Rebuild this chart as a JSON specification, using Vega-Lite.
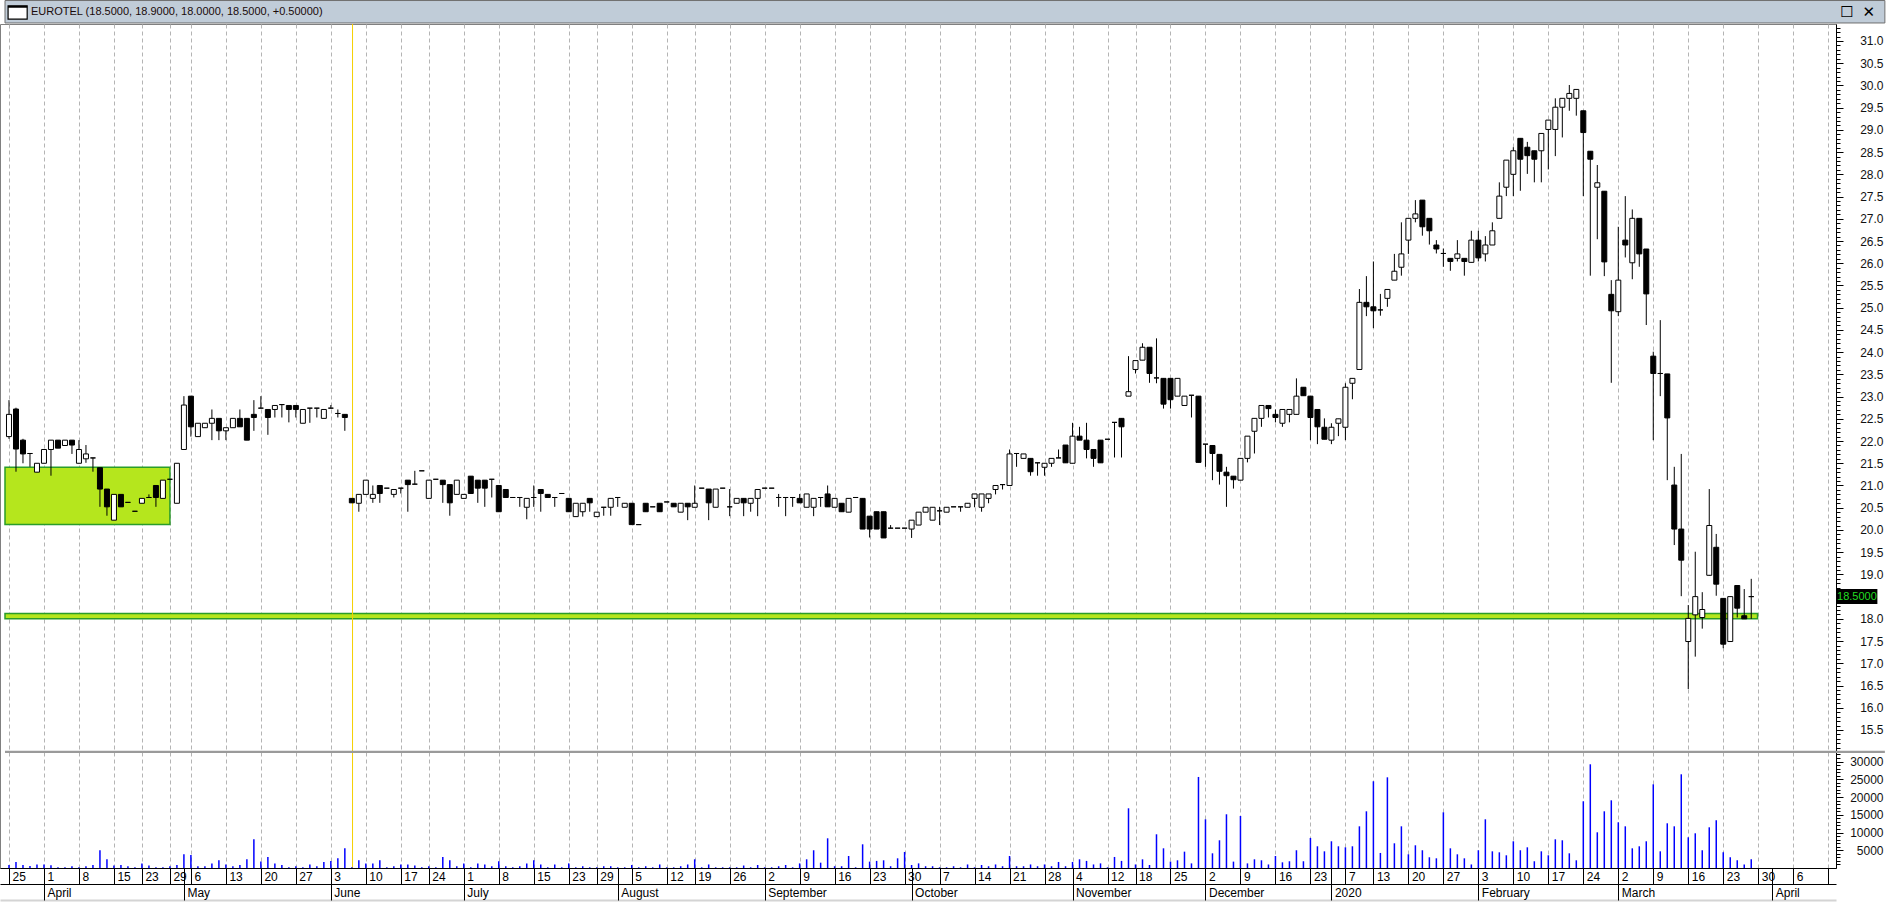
{
"$schema": "https://vega.github.io/schema/vega-lite/v6.json",
"width": 1836,
"height": 844,
"autosize": {"type": "none"},
"padding": {"left": 0, "top": 24, "right": 54, "bottom": 36},
"background": "white",
"config": {
  "view": {"stroke": "#808080"},
  "axis": {"labelFont": "Liberation Sans", "labelFontSize": 12, "labelColor": "#111111", "domainColor": "black", "tickColor": "black", "gridColor": "#b4b4b4", "gridDash": [4, 3], "labelOverlap": false, "labelFlush": false, "title": null},
  "tick": {"opacity": 1}
},
"datasets": {"ohlc": [
{"i":0,"o":22.10,"h":22.92,"l":22.05,"c":22.60,"v":850},
{"i":1,"o":22.72,"h":22.75,"l":21.31,"c":21.82,"v":1700},
{"i":2,"o":22.02,"h":22.05,"l":21.50,"c":21.71,"v":850},
{"i":3,"o":21.72,"h":21.72,"l":21.42,"c":21.72,"v":570},
{"i":4,"o":21.30,"h":21.50,"l":21.30,"c":21.50,"v":1000},
{"i":5,"o":21.50,"h":21.81,"l":21.50,"c":21.81,"v":1000},
{"i":6,"o":21.81,"h":22.02,"l":21.22,"c":22.02,"v":760},
{"i":7,"o":22.02,"h":22.02,"l":21.84,"c":21.84,"v":200},
{"i":8,"o":21.90,"h":22.02,"l":21.90,"c":22.02,"v":200},
{"i":9,"o":22.02,"h":22.02,"l":21.71,"c":21.91,"v":500},
{"i":10,"o":21.50,"h":22.02,"l":21.50,"c":21.81,"v":200},
{"i":11,"o":21.60,"h":21.91,"l":21.51,"c":21.71,"v":500},
{"i":12,"o":21.62,"h":21.62,"l":21.31,"c":21.62,"v":850},
{"i":13,"o":21.40,"h":21.40,"l":20.52,"c":20.92,"v":5000},
{"i":14,"o":20.92,"h":20.92,"l":20.32,"c":20.52,"v":2450},
{"i":15,"o":20.22,"h":20.80,"l":20.22,"c":20.80,"v":700},
{"i":16,"o":20.80,"h":20.80,"l":20.52,"c":20.52,"v":850},
{"i":17,"o":20.62,"h":20.62,"l":20.62,"c":20.62,"v":500},
{"i":18,"o":20.42,"h":20.42,"l":20.42,"c":20.42,"v":200},
{"i":19,"o":20.60,"h":20.71,"l":20.60,"c":20.71,"v":1300},
{"i":20,"o":20.73,"h":20.80,"l":20.73,"c":20.73,"v":700},
{"i":21,"o":21.00,"h":21.00,"l":20.52,"c":20.73,"v":200},
{"i":22,"o":20.71,"h":21.12,"l":20.71,"c":21.12,"v":200},
{"i":23,"o":21.14,"h":21.14,"l":21.14,"c":21.14,"v":500},
{"i":24,"o":20.60,"h":21.50,"l":20.60,"c":21.50,"v":850},
{"i":25,"o":21.81,"h":23.01,"l":21.81,"c":22.81,"v":3860},
{"i":26,"o":23.01,"h":23.01,"l":22.10,"c":22.32,"v":3670},
{"i":27,"o":22.10,"h":22.40,"l":22.10,"c":22.40,"v":500},
{"i":28,"o":22.30,"h":22.40,"l":22.30,"c":22.40,"v":500},
{"i":29,"o":22.40,"h":22.71,"l":22.02,"c":22.51,"v":1300},
{"i":30,"o":22.51,"h":22.51,"l":22.02,"c":22.23,"v":2170},
{"i":31,"o":22.23,"h":22.30,"l":22.02,"c":22.30,"v":1000},
{"i":32,"o":22.30,"h":22.51,"l":22.30,"c":22.51,"v":500},
{"i":33,"o":22.51,"h":22.71,"l":22.32,"c":22.32,"v":850},
{"i":34,"o":22.51,"h":22.51,"l":22.02,"c":22.02,"v":2450},
{"i":35,"o":22.60,"h":22.92,"l":22.23,"c":22.53,"v":8090},
{"i":36,"o":22.74,"h":23.01,"l":22.74,"c":22.74,"v":1800},
{"i":37,"o":22.71,"h":22.71,"l":22.14,"c":22.53,"v":3110},
{"i":38,"o":22.71,"h":22.80,"l":22.53,"c":22.80,"v":1300},
{"i":39,"o":22.82,"h":22.82,"l":22.53,"c":22.82,"v":850},
{"i":40,"o":22.80,"h":22.80,"l":22.42,"c":22.71,"v":200},
{"i":41,"o":22.80,"h":22.80,"l":22.53,"c":22.71,"v":500},
{"i":42,"o":22.40,"h":22.71,"l":22.40,"c":22.71,"v":200},
{"i":43,"o":22.74,"h":22.74,"l":22.41,"c":22.74,"v":1000},
{"i":44,"o":22.74,"h":22.74,"l":22.53,"c":22.74,"v":500},
{"i":45,"o":22.51,"h":22.71,"l":22.51,"c":22.71,"v":1700},
{"i":46,"o":22.74,"h":22.81,"l":22.74,"c":22.74,"v":2000},
{"i":47,"o":22.62,"h":22.71,"l":22.53,"c":22.62,"v":2730},
{"i":48,"o":22.60,"h":22.60,"l":22.23,"c":22.53,"v":5550},
{"i":49,"o":20.71,"h":20.71,"l":20.61,"c":20.61,"v":200},
{"i":50,"o":20.60,"h":20.80,"l":20.41,"c":20.80,"v":2170},
{"i":51,"o":20.80,"h":21.12,"l":20.80,"c":21.12,"v":1300},
{"i":52,"o":20.71,"h":21.00,"l":20.61,"c":20.80,"v":1300},
{"i":53,"o":21.00,"h":21.00,"l":20.61,"c":20.82,"v":2170},
{"i":54,"o":20.94,"h":20.94,"l":20.94,"c":20.94,"v":200},
{"i":55,"o":20.80,"h":20.91,"l":20.73,"c":20.91,"v":500},
{"i":56,"o":20.94,"h":20.94,"l":20.82,"c":20.94,"v":1000},
{"i":57,"o":21.12,"h":21.12,"l":20.41,"c":21.02,"v":1000},
{"i":58,"o":21.03,"h":21.33,"l":21.03,"c":21.03,"v":700},
{"i":59,"o":21.33,"h":21.33,"l":21.33,"c":21.33,"v":200},
{"i":60,"o":20.71,"h":21.12,"l":20.71,"c":21.12,"v":500},
{"i":61,"o":21.14,"h":21.14,"l":21.14,"c":21.14,"v":200},
{"i":62,"o":21.12,"h":21.12,"l":20.61,"c":21.02,"v":3110},
{"i":63,"o":21.02,"h":21.02,"l":20.32,"c":20.61,"v":2170},
{"i":64,"o":20.80,"h":21.12,"l":20.80,"c":21.12,"v":500},
{"i":65,"o":20.71,"h":20.80,"l":20.71,"c":20.80,"v":1300},
{"i":66,"o":21.21,"h":21.21,"l":20.82,"c":20.82,"v":200},
{"i":67,"o":21.12,"h":21.12,"l":20.61,"c":20.94,"v":1300},
{"i":68,"o":21.12,"h":21.12,"l":20.52,"c":20.94,"v":1000},
{"i":69,"o":21.14,"h":21.14,"l":20.73,"c":21.14,"v":500},
{"i":70,"o":21.00,"h":21.00,"l":20.41,"c":20.41,"v":1900},
{"i":71,"o":20.91,"h":20.91,"l":20.73,"c":20.73,"v":500},
{"i":72,"o":20.73,"h":20.73,"l":20.73,"c":20.73,"v":200},
{"i":73,"o":20.73,"h":20.73,"l":20.52,"c":20.73,"v":500},
{"i":74,"o":20.51,"h":20.71,"l":20.24,"c":20.71,"v":1300},
{"i":75,"o":20.73,"h":21.00,"l":20.52,"c":20.73,"v":2170},
{"i":76,"o":20.91,"h":20.91,"l":20.41,"c":20.82,"v":1000},
{"i":77,"o":20.80,"h":20.80,"l":20.73,"c":20.73,"v":200},
{"i":78,"o":20.73,"h":20.73,"l":20.52,"c":20.73,"v":1000},
{"i":79,"o":20.82,"h":20.82,"l":20.82,"c":20.82,"v":200},
{"i":80,"o":20.71,"h":20.71,"l":20.41,"c":20.41,"v":1300},
{"i":81,"o":20.30,"h":20.60,"l":20.30,"c":20.60,"v":200},
{"i":82,"o":20.41,"h":20.60,"l":20.30,"c":20.60,"v":500},
{"i":83,"o":20.71,"h":20.71,"l":20.41,"c":20.61,"v":200},
{"i":84,"o":20.30,"h":20.40,"l":20.30,"c":20.40,"v":200},
{"i":85,"o":20.51,"h":20.51,"l":20.32,"c":20.51,"v":500},
{"i":86,"o":20.51,"h":20.71,"l":20.32,"c":20.71,"v":500},
{"i":87,"o":20.73,"h":20.73,"l":20.52,"c":20.73,"v":200},
{"i":88,"o":20.51,"h":20.60,"l":20.51,"c":20.60,"v":200},
{"i":89,"o":20.60,"h":20.60,"l":20.12,"c":20.12,"v":850},
{"i":90,"o":20.12,"h":20.12,"l":20.12,"c":20.12,"v":200},
{"i":91,"o":20.60,"h":20.60,"l":20.41,"c":20.41,"v":500},
{"i":92,"o":20.52,"h":20.52,"l":20.52,"c":20.52,"v":200},
{"i":93,"o":20.60,"h":20.60,"l":20.41,"c":20.41,"v":1000},
{"i":94,"o":20.63,"h":20.63,"l":20.63,"c":20.63,"v":200},
{"i":95,"o":20.60,"h":20.60,"l":20.52,"c":20.52,"v":200},
{"i":96,"o":20.40,"h":20.60,"l":20.40,"c":20.60,"v":500},
{"i":97,"o":20.60,"h":20.60,"l":20.22,"c":20.52,"v":1000},
{"i":98,"o":20.51,"h":21.00,"l":20.51,"c":20.60,"v":2450},
{"i":99,"o":20.94,"h":20.94,"l":20.94,"c":20.94,"v":200},
{"i":100,"o":20.92,"h":20.92,"l":20.22,"c":20.61,"v":1000},
{"i":101,"o":20.51,"h":20.92,"l":20.51,"c":20.92,"v":200},
{"i":102,"o":20.94,"h":20.94,"l":20.94,"c":20.94,"v":200},
{"i":103,"o":20.52,"h":20.92,"l":20.31,"c":20.52,"v":200},
{"i":104,"o":20.60,"h":20.71,"l":20.60,"c":20.71,"v":200},
{"i":105,"o":20.71,"h":20.71,"l":20.31,"c":20.61,"v":700},
{"i":106,"o":20.60,"h":20.71,"l":20.41,"c":20.71,"v":200},
{"i":107,"o":20.71,"h":20.91,"l":20.31,"c":20.91,"v":850},
{"i":108,"o":20.94,"h":20.94,"l":20.94,"c":20.94,"v":200},
{"i":109,"o":20.94,"h":20.94,"l":20.94,"c":20.94,"v":200},
{"i":110,"o":20.73,"h":20.81,"l":20.52,"c":20.73,"v":500},
{"i":111,"o":20.73,"h":20.73,"l":20.31,"c":20.73,"v":850},
{"i":112,"o":20.73,"h":20.73,"l":20.52,"c":20.73,"v":200},
{"i":113,"o":20.71,"h":20.81,"l":20.61,"c":20.61,"v":1300},
{"i":114,"o":20.51,"h":20.81,"l":20.51,"c":20.81,"v":2450},
{"i":115,"o":20.51,"h":20.71,"l":20.31,"c":20.71,"v":5000},
{"i":116,"o":20.73,"h":20.73,"l":20.52,"c":20.73,"v":1500},
{"i":117,"o":20.81,"h":21.00,"l":20.52,"c":20.52,"v":8370},
{"i":118,"o":20.51,"h":20.71,"l":20.51,"c":20.71,"v":500},
{"i":119,"o":20.60,"h":20.60,"l":20.41,"c":20.41,"v":500},
{"i":120,"o":20.40,"h":20.71,"l":20.40,"c":20.71,"v":3390},
{"i":121,"o":20.73,"h":20.73,"l":20.73,"c":20.73,"v":200},
{"i":122,"o":20.71,"h":20.71,"l":20.02,"c":20.02,"v":6680},
{"i":123,"o":20.31,"h":20.31,"l":19.83,"c":20.02,"v":1800},
{"i":124,"o":20.41,"h":20.41,"l":20.02,"c":20.02,"v":2000},
{"i":125,"o":20.41,"h":20.41,"l":19.82,"c":19.82,"v":2170},
{"i":126,"o":20.04,"h":20.11,"l":20.04,"c":20.04,"v":500},
{"i":127,"o":20.04,"h":20.04,"l":20.04,"c":20.04,"v":2730},
{"i":128,"o":20.04,"h":20.04,"l":20.04,"c":20.04,"v":4520},
{"i":129,"o":20.02,"h":20.22,"l":19.82,"c":20.22,"v":850},
{"i":130,"o":20.11,"h":20.40,"l":20.11,"c":20.40,"v":1300},
{"i":131,"o":20.40,"h":20.51,"l":20.40,"c":20.51,"v":500},
{"i":132,"o":20.22,"h":20.51,"l":20.22,"c":20.51,"v":500},
{"i":133,"o":20.43,"h":20.52,"l":20.11,"c":20.43,"v":200},
{"i":134,"o":20.40,"h":20.51,"l":20.40,"c":20.51,"v":200},
{"i":135,"o":20.52,"h":20.52,"l":20.52,"c":20.52,"v":500},
{"i":136,"o":20.52,"h":20.52,"l":20.41,"c":20.52,"v":200},
{"i":137,"o":20.51,"h":20.60,"l":20.51,"c":20.60,"v":1000},
{"i":138,"o":20.71,"h":20.81,"l":20.51,"c":20.81,"v":200},
{"i":139,"o":20.51,"h":20.81,"l":20.41,"c":20.81,"v":850},
{"i":140,"o":20.71,"h":20.81,"l":20.60,"c":20.81,"v":500},
{"i":141,"o":20.91,"h":21.00,"l":20.80,"c":21.00,"v":1000},
{"i":142,"o":21.02,"h":21.02,"l":20.91,"c":21.02,"v":500},
{"i":143,"o":21.00,"h":21.81,"l":21.00,"c":21.71,"v":3390},
{"i":144,"o":21.72,"h":21.72,"l":21.42,"c":21.72,"v":500},
{"i":145,"o":21.61,"h":21.71,"l":21.61,"c":21.71,"v":500},
{"i":146,"o":21.61,"h":21.61,"l":21.22,"c":21.31,"v":1000},
{"i":147,"o":21.51,"h":21.51,"l":21.22,"c":21.51,"v":500},
{"i":148,"o":21.41,"h":21.50,"l":21.22,"c":21.50,"v":1000},
{"i":149,"o":21.50,"h":21.61,"l":21.42,"c":21.61,"v":500},
{"i":150,"o":21.62,"h":21.81,"l":21.62,"c":21.62,"v":1700},
{"i":151,"o":21.91,"h":21.91,"l":21.51,"c":21.51,"v":500},
{"i":152,"o":21.50,"h":22.41,"l":21.50,"c":22.11,"v":1700},
{"i":153,"o":22.11,"h":22.32,"l":22.02,"c":22.02,"v":2450},
{"i":154,"o":22.02,"h":22.41,"l":21.61,"c":21.81,"v":2000},
{"i":155,"o":21.81,"h":21.81,"l":21.42,"c":21.61,"v":1000},
{"i":156,"o":22.02,"h":22.02,"l":21.51,"c":21.51,"v":1300},
{"i":157,"o":22.04,"h":22.04,"l":22.04,"c":22.04,"v":200},
{"i":158,"o":22.42,"h":22.42,"l":21.63,"c":22.42,"v":3110},
{"i":159,"o":22.51,"h":22.51,"l":21.63,"c":22.32,"v":2000},
{"i":160,"o":23.01,"h":23.91,"l":23.01,"c":23.11,"v":16830},
{"i":161,"o":23.61,"h":23.81,"l":23.52,"c":23.81,"v":1000},
{"i":162,"o":23.82,"h":24.20,"l":23.82,"c":24.11,"v":2450},
{"i":163,"o":24.11,"h":24.11,"l":23.31,"c":23.52,"v":850},
{"i":164,"o":23.42,"h":24.31,"l":23.30,"c":23.42,"v":9500},
{"i":165,"o":23.41,"h":23.41,"l":22.73,"c":22.83,"v":5550},
{"i":166,"o":23.41,"h":23.41,"l":22.73,"c":22.93,"v":1800},
{"i":167,"o":23.01,"h":23.41,"l":23.01,"c":23.41,"v":2170},
{"i":168,"o":22.80,"h":23.01,"l":22.80,"c":23.01,"v":4610},
{"i":169,"o":23.03,"h":23.03,"l":22.53,"c":23.03,"v":1300},
{"i":170,"o":23.01,"h":23.01,"l":21.52,"c":21.52,"v":25660},
{"i":171,"o":21.93,"h":21.93,"l":21.42,"c":21.93,"v":13730},
{"i":172,"o":21.90,"h":21.90,"l":21.12,"c":21.72,"v":4140},
{"i":173,"o":21.70,"h":21.70,"l":21.02,"c":21.32,"v":7810},
{"i":174,"o":21.30,"h":21.42,"l":20.52,"c":21.22,"v":15140},
{"i":175,"o":21.21,"h":21.21,"l":20.93,"c":21.13,"v":1800},
{"i":176,"o":21.12,"h":21.61,"l":21.12,"c":21.61,"v":14670},
{"i":177,"o":21.61,"h":22.11,"l":21.52,"c":22.11,"v":1300},
{"i":178,"o":22.22,"h":22.51,"l":21.72,"c":22.51,"v":2450},
{"i":179,"o":22.51,"h":22.80,"l":22.32,"c":22.80,"v":2170},
{"i":180,"o":22.80,"h":22.80,"l":22.53,"c":22.73,"v":1000},
{"i":181,"o":22.60,"h":22.71,"l":22.42,"c":22.53,"v":3390},
{"i":182,"o":22.40,"h":22.71,"l":22.32,"c":22.71,"v":1600},
{"i":183,"o":22.60,"h":22.71,"l":22.42,"c":22.71,"v":1900},
{"i":184,"o":22.60,"h":23.41,"l":22.60,"c":23.01,"v":5000},
{"i":185,"o":23.21,"h":23.21,"l":23.02,"c":23.02,"v":1900},
{"i":186,"o":23.01,"h":23.01,"l":22.02,"c":22.53,"v":8460},
{"i":187,"o":22.71,"h":22.71,"l":21.93,"c":22.32,"v":6120},
{"i":188,"o":22.31,"h":22.51,"l":22.04,"c":22.04,"v":4700},
{"i":189,"o":22.02,"h":22.40,"l":21.93,"c":22.31,"v":7530},
{"i":190,"o":22.40,"h":22.50,"l":22.11,"c":22.50,"v":6120},
{"i":191,"o":22.31,"h":23.30,"l":22.02,"c":23.21,"v":5830},
{"i":192,"o":23.30,"h":23.41,"l":22.94,"c":23.41,"v":6120},
{"i":193,"o":23.61,"h":25.42,"l":23.61,"c":25.12,"v":11750},
{"i":194,"o":25.12,"h":25.71,"l":24.81,"c":25.02,"v":15980},
{"i":195,"o":25.02,"h":26.04,"l":24.54,"c":24.93,"v":24440},
{"i":196,"o":24.95,"h":25.31,"l":24.82,"c":24.95,"v":4240},
{"i":197,"o":25.21,"h":25.41,"l":25.02,"c":25.41,"v":25560},
{"i":198,"o":25.62,"h":26.21,"l":25.62,"c":25.82,"v":6960},
{"i":199,"o":25.91,"h":26.92,"l":25.72,"c":26.21,"v":11750},
{"i":200,"o":26.52,"h":27.01,"l":26.21,"c":27.01,"v":3860},
{"i":201,"o":27.01,"h":27.42,"l":26.92,"c":27.11,"v":6400},
{"i":202,"o":27.42,"h":27.42,"l":26.62,"c":26.82,"v":5000},
{"i":203,"o":27.01,"h":27.01,"l":26.42,"c":26.73,"v":3020},
{"i":204,"o":26.41,"h":26.52,"l":26.22,"c":26.32,"v":2730},
{"i":205,"o":26.22,"h":26.33,"l":25.92,"c":26.22,"v":15700},
{"i":206,"o":26.11,"h":26.11,"l":25.83,"c":26.04,"v":5550},
{"i":207,"o":26.11,"h":26.52,"l":26.04,"c":26.21,"v":3860},
{"i":208,"o":26.11,"h":26.11,"l":25.72,"c":26.04,"v":2730},
{"i":209,"o":26.02,"h":26.73,"l":26.02,"c":26.52,"v":1000},
{"i":210,"o":26.52,"h":26.73,"l":26.04,"c":26.12,"v":5000},
{"i":211,"o":26.21,"h":26.61,"l":26.04,"c":26.41,"v":13730},
{"i":212,"o":26.41,"h":26.92,"l":26.41,"c":26.73,"v":4700},
{"i":213,"o":27.01,"h":27.82,"l":27.01,"c":27.51,"v":4420},
{"i":214,"o":27.71,"h":28.32,"l":27.51,"c":28.32,"v":3580},
{"i":215,"o":28.00,"h":28.61,"l":27.51,"c":28.53,"v":7530},
{"i":216,"o":28.81,"h":28.81,"l":27.63,"c":28.34,"v":5000},
{"i":217,"o":28.61,"h":28.73,"l":28.01,"c":28.42,"v":5830},
{"i":218,"o":28.53,"h":28.53,"l":27.82,"c":28.34,"v":1900},
{"i":219,"o":28.53,"h":28.92,"l":27.82,"c":28.92,"v":4700},
{"i":220,"o":29.01,"h":29.22,"l":28.11,"c":29.22,"v":3580},
{"i":221,"o":29.01,"h":29.71,"l":28.41,"c":29.51,"v":8090},
{"i":222,"o":29.51,"h":29.71,"l":28.83,"c":29.71,"v":7810},
{"i":223,"o":29.71,"h":30.01,"l":29.43,"c":29.82,"v":4140},
{"i":224,"o":29.71,"h":29.91,"l":29.32,"c":29.91,"v":2170},
{"i":225,"o":29.43,"h":29.43,"l":27.51,"c":28.94,"v":18800},
{"i":226,"o":28.52,"h":28.52,"l":25.72,"c":28.34,"v":29230},
{"i":227,"o":27.71,"h":28.21,"l":26.54,"c":27.81,"v":10060},
{"i":228,"o":27.62,"h":27.62,"l":25.71,"c":26.03,"v":15980},
{"i":229,"o":25.30,"h":25.62,"l":23.31,"c":24.93,"v":19080},
{"i":230,"o":24.91,"h":26.82,"l":24.81,"c":25.62,"v":12880},
{"i":231,"o":26.52,"h":27.51,"l":26.13,"c":26.41,"v":11750},
{"i":232,"o":26.01,"h":27.21,"l":25.64,"c":27.01,"v":5550},
{"i":233,"o":27.01,"h":27.01,"l":25.92,"c":26.21,"v":6120},
{"i":234,"o":26.32,"h":26.32,"l":24.61,"c":25.31,"v":7530},
{"i":235,"o":23.91,"h":24.01,"l":22.02,"c":23.52,"v":23590},
{"i":236,"o":23.52,"h":24.72,"l":23.01,"c":23.52,"v":4700},
{"i":237,"o":23.51,"h":23.51,"l":21.12,"c":22.52,"v":12600},
{"i":238,"o":21.01,"h":21.42,"l":19.66,"c":20.02,"v":11750},
{"i":239,"o":20.02,"h":21.71,"l":18.51,"c":19.32,"v":26410},
{"i":240,"o":17.49,"h":18.31,"l":16.42,"c":18.01,"v":8650},
{"i":241,"o":18.09,"h":19.51,"l":17.15,"c":18.50,"v":9780},
{"i":242,"o":18.03,"h":18.60,"l":17.78,"c":18.21,"v":5000},
{"i":243,"o":18.98,"h":20.92,"l":18.97,"c":20.10,"v":11470},
{"i":244,"o":19.61,"h":19.91,"l":18.52,"c":18.78,"v":13450},
{"i":245,"o":18.46,"h":18.46,"l":17.34,"c":17.43,"v":4420},
{"i":246,"o":17.49,"h":18.50,"l":17.49,"c":18.50,"v":3020},
{"i":247,"o":18.75,"h":18.75,"l":18.03,"c":18.24,"v":2170},
{"i":248,"o":18.07,"h":18.67,"l":18.00,"c":18.00,"v":1000},
{"i":249,"o":18.50,"h":18.90,"l":18.00,"c":18.50,"v":2450}
]},
"data": {"name": "ohlc"},
"resolve": {"scale": {"y": "independent"}, "axis": {"x": "independent", "y": "independent"}},
"layer": [
  {"data": {"values": [{}]},
   "mark": {"type": "rect", "fill": "#c0ccd8", "stroke": "#6f6f6f", "strokeWidth": 1},
   "encoding": {
     "x": {"datum": -0.57, "type": "quantitative", "title": null, "scale": {"domain": [-0.57, 260.4], "nice": false, "zero": false}, "axis": null},
     "x2": {"datum": 268.1},
     "y": {"datum": 31.405, "type": "quantitative", "title": null, "scale": {"domain": [12.395, 31.382], "nice": false, "zero": false}, "axis": null},
     "y2": {"datum": 31.91}
   }},
  {"data": {"values": [{}]},
   "mark": {"type": "rect", "fill": "white", "stroke": "black", "strokeWidth": 1.2},
   "encoding": {
     "x": {"datum": -0.13, "type": "quantitative", "title": null, "axis": null},
     "x2": {"datum": 2.6},
     "y": {"datum": 31.49, "type": "quantitative", "title": null, "scale": {"domain": [12.395, 31.382], "nice": false, "zero": false}, "axis": null},
     "y2": {"datum": 31.79}
   }},
  {"data": {"values": [{}]},
   "mark": {"type": "rect", "fill": "black", "stroke": null},
   "encoding": {
     "x": {"datum": -0.13, "type": "quantitative", "title": null, "axis": null},
     "x2": {"datum": 2.6},
     "y": {"datum": 31.745, "type": "quantitative", "title": null, "scale": {"domain": [12.395, 31.382], "nice": false, "zero": false}, "axis": null},
     "y2": {"datum": 31.79}
   }},
  {"data": {"values": [{"caption": "EUROTEL (18.5000, 18.9000, 18.0000, 18.5000, +0.50000)"}]},
   "mark": {"type": "text", "align": "left", "baseline": "middle", "dx": 26, "font": "Liberation Sans", "fontSize": 11, "color": "#1a0a0a"},
   "encoding": {
     "x": {"datum": -0.57, "type": "quantitative", "title": null, "axis": null},
     "y": {"datum": 31.655, "type": "quantitative", "title": null, "scale": {"domain": [12.395, 31.382], "nice": false, "zero": false}, "axis": null},
     "text": {"field": "caption"}
   }},
  {"data": {"values": [{"glyph": "☐", "off": -38}, {"glyph": "✕", "off": -16}]},
   "mark": {"type": "text", "align": "center", "baseline": "middle", "font": "DejaVu Sans", "fontSize": 15, "fontWeight": "bold", "color": "black"},
   "encoding": {
     "x": {"datum": 268.1, "type": "quantitative", "title": null, "axis": null},
     "xOffset": {"field": "off", "type": "quantitative", "scale": null},
     "y": {"datum": 31.66, "type": "quantitative", "title": null, "scale": {"domain": [12.395, 31.382], "nice": false, "zero": false}, "axis": null},
     "text": {"field": "glyph"}
   }},
  {"data": {"values": [{}]},
   "mark": {"type": "rect", "fill": "#b5e61d", "stroke": "#2a9d2a", "strokeWidth": 1.5, "clip": true},
   "encoding": {
     "x": {"datum": -0.57, "type": "quantitative", "title": null,
           "axis": {"orient": "bottom", "offset": 32, "labels": false, "ticks": false, "grid": false, "domain": true, "domainColor": "#d4d4d4", "domainWidth": 2}},
     "x2": {"datum": 23.0},
     "y": {"datum": 20.12, "type": "quantitative", "title": null, "scale": {"domain": [12.395, 31.382], "nice": false, "zero": false}, "axis": null},
     "y2": {"datum": 21.41}
   }},
  {"data": {"values": [{}]},
   "mark": {"type": "rect", "fill": "#b5e61d", "stroke": "#2a9d2a", "strokeWidth": 1.5, "clip": true},
   "encoding": {
     "x": {"datum": -0.57, "type": "quantitative", "title": null, "axis": null},
     "x2": {"datum": 249.9},
     "y": {"datum": 18.0, "type": "quantitative", "title": null, "scale": {"domain": [12.395, 31.382], "nice": false, "zero": false}, "axis": null},
     "y2": {"datum": 18.12}
   }},
  {"data": {"values": [{}]},
   "mark": {"type": "rule", "color": "#f5d000", "strokeWidth": 1},
   "encoding": {
     "x": {"datum": 49.1, "type": "quantitative", "title": null,
           "axis": {"orient": "bottom", "values": [5,25,46,65,87,108,129,152,171,189,210,230,252],
                    "labelExpr": "['April','May','June','July','August','September','October','November','December','2020','February','March','April'][indexof([5,25,46,65,87,108,129,152,171,189,210,230,252], datum.value)]",
                    "grid": false, "tickSize": 32, "domain": false, "labelAlign": "left", "labelBaseline": "middle", "labelPadding": -8, "labelOffset": 3, "labelColor": "black"}}
   }},
  {"mark": {"type": "rule", "color": "#0000ff", "strokeWidth": 1.5},
   "encoding": {
     "x": {"field": "i", "type": "quantitative", "title": null,
           "axis": {"orient": "bottom", "values": [0,5,10,15,19,23,26,31,36,41,46,51,56,60,65,70,75,80,84,89,94,98,103,108,113,118,123,128,133,138,143,148,152,157,161,166,171,176,181,186,191,195,200,205,210,215,220,225,230,235,240,245,250,255,260],
                    "labelExpr": "['25','1','8','15','23','29','6','13','20','27','3','10','17','24','1','8','15','23','29','5','12','19','26','2','9','16','23','30','7','14','21','28','4','12','18','25','2','9','16','23','7','13','20','27','3','10','17','24','2','9','16','23','30','6',''][indexof([0,5,10,15,19,23,26,31,36,41,46,51,56,60,65,70,75,80,84,89,94,98,103,108,113,118,123,128,133,138,143,148,152,157,161,166,171,176,181,186,191,195,200,205,210,215,220,225,230,235,240,245,250,255,260], datum.value)]",
                    "grid": true, "tickSize": 16, "domain": true, "labelAlign": "left", "labelBaseline": "middle", "labelPadding": -8, "labelOffset": 3, "labelColor": "black"}},
     "y": {"field": "v", "type": "quantitative", "title": null, "scale": {"domain": [0, 237880], "nice": false, "zero": false},
           "axis": {"orient": "right", "values": [5000,10000,15000,20000,25000,30000], "format": "d", "tickSize": 7, "labelAlign": "right", "labelPadding": 40, "labelBaseline": "middle", "grid": false, "domain": false}},
     "y2": {"datum": 0}
   }},
  {"data": {"values": [{}]},
   "mark": {"type": "point", "opacity": 0},
   "encoding": {
     "x": {"datum": 0, "type": "quantitative", "title": null, "axis": null},
     "y": {"datum": 0, "type": "quantitative", "title": null, "scale": {"domain": [0, 237880], "nice": false, "zero": false},
           "axis": {"orient": "right", "values": [1000,2000,3000,4000,6000,7000,8000,9000,11000,12000,13000,14000,16000,17000,18000,19000,21000,22000,23000,24000,26000,27000,28000,29000,31000,32000], "labels": false, "tickSize": 4, "grid": false, "domain": false}}
   }},
  {"mark": {"type": "rule", "color": "black", "strokeWidth": 1},
   "encoding": {
     "x": {"field": "i", "type": "quantitative", "title": null, "axis": null},
     "y": {"field": "l", "type": "quantitative", "title": null, "scale": {"domain": [12.395, 31.382], "nice": false, "zero": false},
           "axis": {"orient": "right", "values": [15.5,16,16.5,17,17.5,18,19,19.5,20,20.5,21,21.5,22,22.5,23,23.5,24,24.5,25,25.5,26,26.5,27,27.5,28,28.5,29,29.5,30,30.5,31], "format": ".1f", "tickSize": 7, "labelAlign": "right", "labelPadding": 40, "labelBaseline": "middle", "grid": false, "domain": true}},
     "y2": {"field": "h"}
   }},
  {"mark": {"type": "bar", "width": 5, "stroke": "black", "strokeWidth": 1},
   "encoding": {
     "x": {"field": "i", "type": "quantitative", "title": null, "axis": null},
     "y": {"field": "o", "type": "quantitative", "title": null, "scale": {"domain": [12.395, 31.382], "nice": false, "zero": false},
           "axis": {"orient": "right", "values": [15.1,15.2,15.3,15.4,15.6,15.7,15.8,15.9,16.1,16.2,16.3,16.4,16.6,16.7,16.8,16.9,17.1,17.2,17.3,17.4,17.6,17.7,17.8,17.9,18.1,18.2,18.3,18.4,18.5,18.6,18.7,18.8,18.9,19.1,19.2,19.3,19.4,19.6,19.7,19.8,19.9,20.1,20.2,20.3,20.4,20.6,20.7,20.8,20.9,21.1,21.2,21.3,21.4,21.6,21.7,21.8,21.9,22.1,22.2,22.3,22.4,22.6,22.7,22.8,22.9,23.1,23.2,23.3,23.4,23.6,23.7,23.8,23.9,24.1,24.2,24.3,24.4,24.6,24.7,24.8,24.9,25.1,25.2,25.3,25.4,25.6,25.7,25.8,25.9,26.1,26.2,26.3,26.4,26.6,26.7,26.8,26.9,27.1,27.2,27.3,27.4,27.6,27.7,27.8,27.9,28.1,28.2,28.3,28.4,28.6,28.7,28.8,28.9,29.1,29.2,29.3,29.4,29.6,29.7,29.8,29.9,30.1,30.2,30.3,30.4,30.6,30.7,30.8,30.9,31.1,31.2,31.3], "labels": false, "tickSize": 4, "grid": false, "domain": false}},
     "y2": {"field": "c"},
     "fill": {"condition": {"test": "datum.c > datum.o", "value": "white"}, "value": "black"}
   }},
  {"data": {"values": [{}]},
   "mark": {"type": "rect", "fill": "#9a9a9a", "stroke": null},
   "encoding": {
     "x": {"datum": -0.57, "type": "quantitative", "title": null,
           "axis": {"orient": "bottom", "offset": 16, "labels": false, "ticks": false, "grid": false, "domain": true}},
     "x2": {"datum": 268.1},
     "y": {"datum": 14.98, "type": "quantitative", "title": null, "scale": {"domain": [12.395, 31.382], "nice": false, "zero": false}, "axis": null},
     "y2": {"datum": 15.03}
   }},
  {"transform": [{"filter": "datum.i == 249"}],
   "mark": {"type": "tick", "orient": "horizontal", "size": 41, "thickness": 15, "color": "black", "opacity": 1},
   "encoding": {
     "x": {"datum": 264.1, "type": "quantitative", "title": null, "axis": null},
     "y": {"field": "c", "type": "quantitative", "title": null, "scale": {"domain": [12.395, 31.382], "nice": false, "zero": false}, "axis": null}
   }},
  {"transform": [{"filter": "datum.i == 249"}],
   "mark": {"type": "text", "color": "#22dd22", "font": "Liberation Sans", "fontSize": 11, "align": "center", "baseline": "middle"},
   "encoding": {
     "x": {"datum": 264.1, "type": "quantitative", "title": null, "axis": null},
     "y": {"field": "c", "type": "quantitative", "title": null, "scale": {"domain": [12.395, 31.382], "nice": false, "zero": false}, "axis": null},
     "text": {"field": "c", "format": ".4f"}
   }}
]
}
